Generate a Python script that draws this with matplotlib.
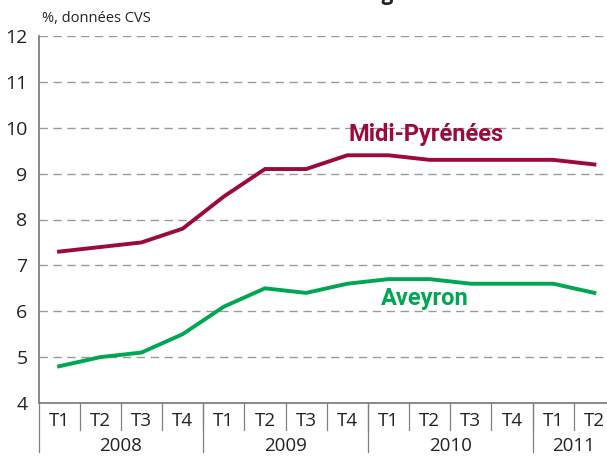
import matplotlib
matplotlib.use("Agg")
import matplotlib.pyplot as plt
from matplotlib import font_manager as fm
import matplotlib.transforms as mtransforms

quarters = ["T1", "T2", "T3", "T4", "T1", "T2", "T3", "T4",
            "T1", "T2", "T3", "T4", "T1", "T2"]
years = ["2008", "2009", "2010", "2011"]
quarters_per_year = [4, 4, 4, 2]
midi_pyrenees = [7.3, 7.4, 7.5, 7.8, 8.5, 9.1, 9.1, 9.4, 9.4, 9.3, 9.3, 9.3, 9.3, 9.2]
aveyron = [4.8, 5.0, 5.1, 5.5, 6.1, 6.5, 6.4, 6.6, 6.7, 6.7, 6.6, 6.6, 6.6, 6.4]
yticks = [4, 5, 6, 7, 8, 9, 10, 11, 12]

names = {f.name for f in fm.fontManager.ttflist}
base_font = "Open Sans" if "Open Sans" in names else "DejaVu Sans"
bold_font = "Roboto" if "Roboto" in names else "DejaVu Sans"

RED = "#9b0a3a"
GREEN = "#00a651"
GRAY = "#808080"

W, H = 607, 457
fig = plt.figure(figsize=(W / 100, H / 100), dpi=100)
left, right, top, bottom = 38.5, 615, 36, 403
ax = fig.add_axes([left / W, 1 - bottom / H, (right - left) / W, (bottom - top) / H])

n = len(quarters)
x = [i + 0.5 for i in range(n)]
ax.plot(x, midi_pyrenees, color=RED, lw=2.8, solid_joinstyle="miter", zorder=3)
ax.plot(x, aveyron, color=GREEN, lw=2.8, solid_joinstyle="miter", zorder=3)

ax.set_xlim(0, n)
ax.set_ylim(4, 12)
for v in yticks[1:]:
    ax.axhline(v, color="#9a9a9a", lw=1.0, ls=(0, (6, 4)), zorder=1)

for s in ["top", "right"]:
    ax.spines[s].set_visible(False)
for s in ["left", "bottom"]:
    ax.spines[s].set_color(GRAY)
    ax.spines[s].set_linewidth(1.3)

ax.set_yticks(yticks)
ax.set_yticklabels([str(v) for v in yticks], fontsize=14, family=base_font, color="#222222")
ax.tick_params(axis="y", length=0, pad=8)
ax.set_xticks([])

trans = mtransforms.blended_transform_factory(ax.transData, fig.transFigure)
def fy(px):
    return 1 - px / H

# quarter separators and labels
for i in range(1, n):
    ax.plot([i, i], [fy(403), fy(430)], transform=trans, color=GRAY, lw=0.9, clip_on=False)
for i, q in enumerate(quarters):
    ax.text(i + 0.5, fy(421), q, transform=trans, ha="center", va="center",
            fontsize=13.5, family=base_font, color="#222222")
# year separators and labels
pos = 0
for yname, cnt in zip(years, quarters_per_year):
    ax.plot([pos, pos], [fy(403), fy(452)], transform=trans, color=GRAY, lw=0.9, clip_on=False)
    ax.text(pos + cnt / 2, fy(446), yname, transform=trans, ha="center", va="center",
            fontsize=13.5, family=base_font, color="#222222")
    pos += cnt

fig.text(42 / W, fy(19), "%, données CVS", ha="left", va="center",
         fontsize=10.5, family=base_font, color="#222222")

ax.text(9.41, 9.86, "Midi-Pyrénées", ha="center", va="center", color=RED,
        fontsize=17, fontweight="bold", family=bold_font)
ax.text(9.38, 6.28, "Aveyron", ha="center", va="center", color=GREEN,
        fontsize=17, fontweight="bold", family=bold_font)

# partially cropped title at the very top (as in the reference)
fig.text(0.52, fy(0.3), "Taux de chômage", ha="center", va="baseline",
         fontsize=15, fontweight="bold", family=base_font, color="#222222")

fig.savefig("out.png", dpi=100)
